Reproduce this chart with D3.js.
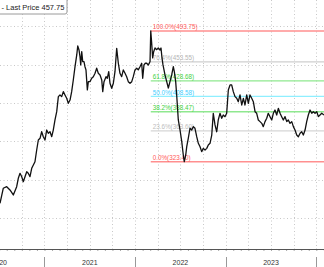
<!DOCTYPE html>
<html lang="en">
<head>
<meta charset="utf-8">
<title>Last Price with Fibonacci retracement</title>
<script src="https://cdn.jsdelivr.net/npm/d3@7"></script>
<style>
  body { margin: 0; background: #fff; font-family: "Liberation Sans", Arial, sans-serif; }
  .grid line { stroke: #c8c8c8; stroke-dasharray: 1,2.5; }
  .axis path, .axis line { stroke: #555; }
  .yearlab { font-size: 7px; fill: #333; }
  .fiblab { font-size: 6.3px; }
</style>
</head>
<body>
<div id="chart"></div>
<script>
// decimal year of each close
var dates = [2020.509,2020.545,2020.583,2020.619,2020.656,2020.693,2020.711,2020.730,2020.749,2020.766,
  2020.785,2020.804,2020.821,2020.840,2020.859,2020.877,2020.895,2020.914,2020.932,2020.951,
  2020.969,2020.987,2021.006,2021.024,2021.042,2021.061,2021.080,2021.097,2021.116,2021.135,
  2021.153,2021.171,2021.190,2021.208,2021.226,2021.245,2021.263,2021.282,2021.300,2021.318,
  2021.337,2021.356,2021.367,2021.381,2021.392,2021.400,2021.411,2021.422,2021.436,2021.447,
  2021.458,2021.473,2021.484,2021.502,2021.521,2021.539,2021.558,2021.576,2021.594,2021.613,
  2021.632,2021.643,2021.657,2021.679,2021.693,2021.709,2021.723,2021.742,2021.760,2021.778,
  2021.797,2021.815,2021.833,2021.852,2021.870,2021.889,2021.907,2021.925,2021.944,2021.963,
  2021.980,2021.999,2022.018,2022.035,2022.054,2022.073,2022.084,2022.098,2022.113,2022.128,
  2022.146,2022.165,2022.173,2022.183,2022.194,2022.205,2022.220,2022.239,2022.256,2022.275,
  2022.286,2022.297,2022.308,2022.330,2022.349,2022.367,2022.385,2022.404,2022.422,2022.433,
  2022.448,2022.459,2022.477,2022.496,2022.515,2022.532,2022.543,2022.559,2022.570,2022.587,
  2022.606,2022.625,2022.643,2022.661,2022.680,2022.698,2022.717,2022.735,2022.753,2022.772,
  2022.791,2022.808,2022.827,2022.846,2022.863,2022.882,2022.901,2022.918,2022.937,2022.956,
  2022.973,2022.992,2023.011,2023.029,2023.048,2023.066,2023.084,2023.103,2023.122,2023.139,
  2023.158,2023.177,2023.195,2023.213,2023.232,2023.250,2023.268,2023.287,2023.305,2023.324,
  2023.342,2023.360,2023.379,2023.398,2023.415,2023.434,2023.453,2023.470,2023.489,2023.508,
  2023.526,2023.544,2023.563,2023.581,2023.600,2023.618,2023.636,2023.655,2023.674,2023.691,
  2023.710,2023.729,2023.747,2023.765,2023.784,2023.802,2023.821,2023.839,2023.857,2023.876,
  2023.894,2023.912,2023.931,2023.950,2023.967,2023.986,2024.005,2024.023,2024.041,2024.060,
  2024.085];

var prices = [269.2,288.8,290.9,286.6,280.1,290.9,301.8,308.3,303.9,297.4,
  303.9,310.4,308.3,303.9,314.8,319.2,323.4,338.7,351.7,353.9,
  362.5,356.0,351.7,364.7,360.4,362.5,356.0,364.7,377.8,388.6,
  408.2,410.4,408.2,414.7,410.4,406.0,399.5,403.8,414.7,429.9,
  447.2,462.5,474.2,469.0,460.3,449.5,466.8,453.8,453.8,447.2,
  443.0,416.9,427.7,427.7,432.1,434.2,438.6,445.2,438.6,436.4,
  429.9,414.7,427.7,434.2,432.1,440.7,425.6,419.1,425.6,440.7,
  471.2,451.7,438.6,434.2,443.0,438.6,434.2,427.7,425.6,427.7,
  434.2,443.0,445.2,443.0,447.2,451.7,432.1,449.5,451.7,451.7,
  449.5,453.8,493.75,478.1,458.6,466.8,471.6,469.4,471.6,469.0,
  471.6,458.6,449.5,436.4,427.7,419.5,427.7,436.4,447.2,440.7,
  427.7,410.4,377.8,364.7,349.5,332.2,323.40,332.2,343.0,353.9,
  367.0,364.7,369.1,367.0,356.0,347.4,343.0,336.5,340.8,338.7,
  340.8,345.2,347.4,358.2,386.5,371.3,362.5,377.8,386.5,380.0,
  384.3,382.1,386.5,416.9,423.4,423.4,414.7,408.2,406.0,401.6,
  410.4,397.3,406.0,397.3,410.4,399.5,410.4,406.0,401.6,388.6,
  386.5,377.8,375.6,373.4,369.1,375.6,380.0,386.5,382.1,377.8,
  386.5,390.8,384.3,393.0,386.5,382.1,377.8,382.1,375.6,377.8,
  373.4,375.6,369.1,364.7,358.2,356.0,360.4,362.5,358.2,364.7,
  375.6,384.3,390.8,386.5,388.6,386.5,388.6,382.1,384.3,386.5,
  384.3];

var years = [2020, 2021, 2022, 2023];
var gridPrices = [250, 300, 350, 400, 450, 500];
var fibRatios = [1, 0.764, 0.618, 0.5, 0.382, 0.236, 0];
var fibLine = ["#ff8f8f", "#cfcfcf", "#8fe88f", "#8fefff", "#8fe88f", "#d6d6d6", "#ff8f8f"];
var fibText = ["#ff5a5a", "#b5b5b5", "#3fd23f", "#3fcfff", "#3fd23f", "#bdbdbd", "#ff5a5a"];
var lastPrice = 457.75;

var W = 324, H = 267, axisY = 249;

var x = d3.scaleLinear().domain([2020.509, 2024.085]).range([0, W]);
var y = d3.scaleLinear().domain([209.7, 534.1]).range([axisY, 0]);

var svg = d3.select("#chart").append("svg")
  .attr("width", W).attr("height", H);

// dotted grid, quarterly verticals and every 50 horizontally
var quarters = d3.range(2020.5, 2024.3, 0.25);
var grid = svg.append("g").attr("class", "grid");
grid.selectAll(".v").data(quarters).enter().append("line")
  .attr("x1", function(d) { return Math.round(x(d)) + 0.5; })
  .attr("x2", function(d) { return Math.round(x(d)) + 0.5; })
  .attr("y1", 0).attr("y2", axisY);
grid.selectAll(".h").data(gridPrices).enter().append("line")
  .attr("x1", 0).attr("x2", W)
  .attr("y1", function(d) { return Math.round(y(d)) + 0.5; })
  .attr("y2", function(d) { return Math.round(y(d)) + 0.5; });

// fibonacci levels: high of the series and the low that came after it
var hiIdx = d3.maxIndex(prices);
var loIdx = hiIdx + d3.minIndex(prices.slice(hiIdx));
var hi = prices[hiIdx], lo = prices[loIdx];
var fib = fibRatios.map(function(r, i) {
  return {r: r, v: lo + r * (hi - lo), line: fibLine[i], text: fibText[i]};
});
var x0 = x(dates[hiIdx]);

// round half up, avoids 408.575 -> 408.57
var fmt2 = function(v) { return (Math.round(v * 100 + 1e-6) / 100).toFixed(2); };

var fg = svg.append("g");
fg.selectAll("line").data(fib).enter().append("line")
  .attr("x1", x0).attr("x2", W)
  .attr("y1", function(d) { return y(d.v); })
  .attr("y2", function(d) { return y(d.v); })
  .attr("stroke", function(d) { return d.line; })
  .attr("stroke-width", 1.4);
fg.selectAll("text").data(fib).enter().append("text")
  .attr("class", "fiblab")
  .attr("x", x0 + 2)
  .attr("y", function(d) { return y(d.v) - 1.5; })
  .attr("fill", function(d) { return d.text; })
  .text(function(d) { return (d.r * 100).toFixed(1) + "%(" + fmt2(d.v) + ")"; });

// price line
var line = d3.line()
  .x(function(d, i) { return x(dates[i]); })
  .y(function(d) { return y(d); });
svg.append("path").datum(prices)
  .attr("d", line)
  .attr("fill", "none")
  .attr("stroke", "#111")
  .attr("stroke-width", 1.3)
  .attr("stroke-linejoin", "round");

// bottom axis with monthly minor ticks
var months = d3.range(2020.5, 2024.1, 1 / 12);
svg.append("g")
  .attr("class", "axis")
  .attr("transform", "translate(0," + axisY + ")")
  .call(d3.axisBottom(x).tickValues(months).tickSize(1.5).tickFormat(""))
  .call(function(g) { g.select(".domain").attr("d", "M0,0.5H" + W); });

// year separators and labels
svg.selectAll(".ysep").data(years.slice(1).concat([2024])).enter().append("line")
  .attr("x1", function(d) { return Math.round(x(d)) + 0.5; })
  .attr("x2", function(d) { return Math.round(x(d)) + 0.5; })
  .attr("y1", 257).attr("y2", H)
  .attr("stroke", "#999");
svg.selectAll(".yearlab").data(years).enter().append("text")
  .attr("class", "yearlab")
  .attr("text-anchor", "middle")
  .attr("x", function(d) { return x(d + 0.5); })
  .attr("y", 264.5)
  .text(function(d) { return d; });

// legend box
var lg = svg.append("g");
lg.append("rect")
  .attr("x", -3).attr("y", -2).attr("width", 70).attr("height", 16)
  .attr("rx", 2)
  .attr("fill", "#fff").attr("stroke", "#9a9a9a");
lg.append("text")
  .attr("x", 1.5).attr("y", 10)
  .attr("font-size", "7.5px").attr("fill", "#222")
  .text("- Last Price " + lastPrice.toFixed(2));
</script>
</body>
</html>
